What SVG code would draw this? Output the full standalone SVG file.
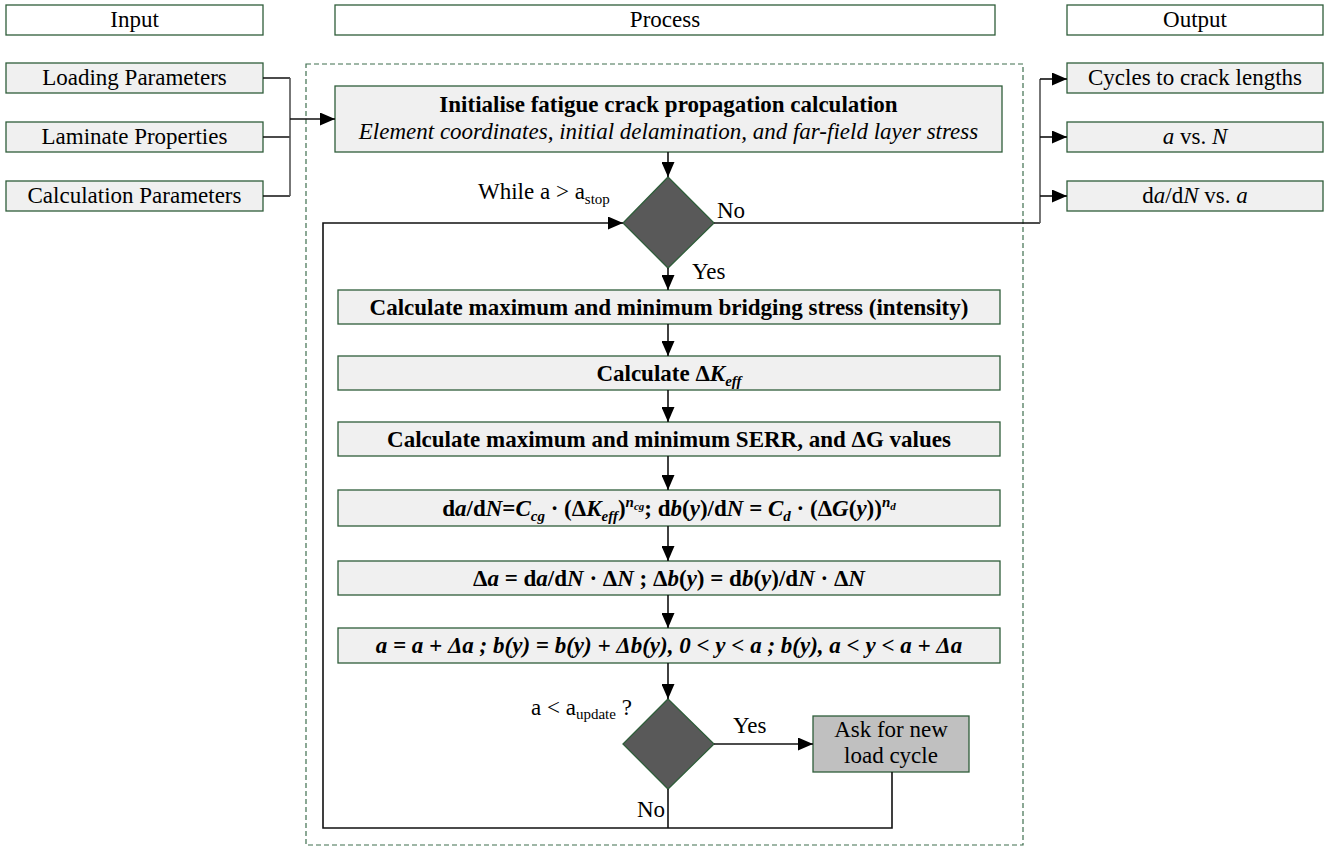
<svg xmlns="http://www.w3.org/2000/svg" width="1328" height="847" viewBox="0 0 1328 847" font-family="'Liberation Serif', 'DejaVu Serif', serif">
<style>
text{font-family:'Liberation Serif','DejaVu Serif',serif;font-size:23px;fill:#000}
.c{text-anchor:middle}
.b{font-weight:bold}
.i{font-style:italic}
.hdr{fill:#fff;stroke:#2f5d3a;stroke-width:1.3}
.box{fill:#f0f0f0;stroke:#2f5d3a;stroke-width:1.3}
.ask{fill:#c0c0c0;stroke:#2f5d3a;stroke-width:1.3}
.dia{fill:#595959;stroke:#2f5d3a;stroke-width:1.3}
.ln{fill:none;stroke:#111;stroke-width:1.6}
.lg{fill:none;stroke:#555;stroke-width:1.6}
.dash{fill:none;stroke:#3f6f4f;stroke-width:1.2;stroke-dasharray:5,3}
</style>
<defs>
<marker id="ah" markerUnits="userSpaceOnUse" markerWidth="16" markerHeight="13" refX="15" refY="6.5" orient="auto">
<path d="M0,0 L15,6.5 L0,13 Z" fill="#000"/>
</marker>
</defs>

<rect class="dash" x="306" y="64" width="717" height="781"/>

<g id="header-input"><rect class="hdr" x="6" y="5" width="257" height="30"/><text class="c" x="134.5" y="27">Input</text></g>
<g id="header-process"><rect class="hdr" x="335" y="5" width="660" height="30"/><text class="c" x="665" y="27">Process</text></g>
<g id="header-output"><rect class="hdr" x="1067" y="5" width="256" height="30"/><text class="c" x="1195" y="27">Output</text></g>

<g id="in-loading"><rect class="box" x="6" y="63" width="257" height="30"/><text class="c" x="134.5" y="85">Loading Parameters</text></g>
<g id="in-laminate"><rect class="box" x="6" y="122" width="257" height="30"/><text class="c" x="134.5" y="144">Laminate Properties</text></g>
<g id="in-calc"><rect class="box" x="6" y="181" width="257" height="30"/><text class="c" x="134.5" y="203">Calculation Parameters</text></g>

<g id="out-cycles"><rect class="box" x="1067" y="63" width="256" height="30"/><text class="c" x="1195" y="85">Cycles to crack lengths</text></g>
<g id="out-aN"><rect class="box" x="1067" y="122" width="256" height="30"/><text class="c" x="1195" y="144"><tspan class="i">a</tspan> vs. <tspan class="i">N</tspan></text></g>
<g id="out-dadN"><rect class="box" x="1067" y="181" width="256" height="30"/><text class="c" x="1195" y="203">d<tspan class="i">a</tspan>/d<tspan class="i">N</tspan> vs. <tspan class="i">a</tspan></text></g>

<g id="init"><rect class="box" x="335" y="86" width="667" height="66"/>
<text class="c b" x="668.5" y="112">Initialise fatigue crack propagation calculation</text>
<text class="c i" x="668.5" y="139">Element coordinates, initial delamination, and far-field layer stress</text></g>

<g id="while"><path class="dia" d="M668,177 L714,223 L668,268 L623,223 Z"/>
<text x="478" y="199">While a &gt; a<tspan font-size="15" dy="5">stop</tspan></text>
<text x="717" y="218">No</text>
<text x="692" y="279">Yes</text></g>

<g id="bridging"><rect class="box" x="338" y="290" width="662" height="34"/><text class="c b" x="669" y="315">Calculate maximum and minimum bridging stress (intensity)</text></g>
<g id="dKeff"><rect class="box" x="338" y="356" width="662" height="34"/><text class="c b" x="669" y="381">Calculate Δ<tspan class="i">K</tspan><tspan class="i" font-size="15" dy="5">eff</tspan></text></g>
<g id="serr"><rect class="box" x="338" y="422" width="662" height="34"/><text class="c b" x="669" y="447">Calculate maximum and minimum SERR, and ΔG values</text></g>
<g id="rates"><rect class="box" x="338" y="490" width="662" height="36"/><text class="c b" x="669" y="516">d<tspan class="i">a</tspan>/d<tspan class="i">N</tspan>=<tspan class="i">C</tspan><tspan class="i" font-size="15" dy="5">cg</tspan><tspan dy="-5"> · (Δ</tspan><tspan class="i">K</tspan><tspan class="i" font-size="15" dy="5">eff</tspan><tspan dy="-5">)</tspan><tspan class="i" font-size="15" dy="-9">n</tspan><tspan class="i" font-size="11" dy="3">cg</tspan><tspan dy="6">; d</tspan><tspan class="i">b</tspan>(<tspan class="i">y</tspan>)/d<tspan class="i">N</tspan> = <tspan class="i">C</tspan><tspan class="i" font-size="15" dy="5">d</tspan><tspan dy="-5"> · (Δ</tspan><tspan class="i">G</tspan>(<tspan class="i">y</tspan>))<tspan class="i" font-size="15" dy="-9">n</tspan><tspan class="i" font-size="11" dy="3">d</tspan></text></g>
<g id="increments"><rect class="box" x="338" y="561" width="662" height="34"/><text class="c b" x="669" y="586">Δ<tspan class="i">a</tspan> = d<tspan class="i">a</tspan>/d<tspan class="i">N</tspan> · Δ<tspan class="i">N</tspan> ; Δ<tspan class="i">b</tspan>(<tspan class="i">y</tspan>) = d<tspan class="i">b</tspan>(<tspan class="i">y</tspan>)/d<tspan class="i">N</tspan> · Δ<tspan class="i">N</tspan></text></g>
<g id="update"><rect class="box" x="338" y="628" width="662" height="35"/><text class="c b i" x="669" y="653">a = a + Δa ; b(y) = b(y) + Δb(y), 0 &lt; y &lt; a ; b(y), a &lt; y &lt; a + Δa</text></g>

<g id="check"><path class="dia" d="M668,699 L714,744 L668,789 L623,744 Z"/>
<text x="531" y="715">a &lt; a<tspan font-size="15" dy="4">update</tspan><tspan dy="-4"> ?</tspan></text>
<text x="733" y="733">Yes</text>
<text x="637" y="817">No</text></g>

<g id="ask"><rect class="ask" x="813" y="716" width="156" height="56"/>
<text class="c" x="891" y="737">Ask for new</text>
<text class="c" x="891" y="763">load cycle</text></g>

<g id="connectors">
<path class="ln" d="M263,78 H290 M263,137 H290 M263,196 H290"/>
<path class="lg" d="M290,78 V196"/>
<path class="ln" d="M290,119 H335" marker-end="url(#ah)"/>
<path class="ln" d="M668,152 V177" marker-end="url(#ah)"/>
<path class="ln" d="M714,223 H1040"/>
<path class="lg" d="M1040,223 V79"/>
<path class="ln" d="M1040,79 H1067" marker-end="url(#ah)"/>
<path class="ln" d="M1040,137 H1067" marker-end="url(#ah)"/>
<path class="ln" d="M1040,196 H1067" marker-end="url(#ah)"/>
<path class="ln" d="M668,268 V290" marker-end="url(#ah)"/>
<path class="ln" d="M668,324 V356" marker-end="url(#ah)"/>
<path class="ln" d="M668,390 V422" marker-end="url(#ah)"/>
<path class="ln" d="M668,456 V490" marker-end="url(#ah)"/>
<path class="ln" d="M668,526 V561" marker-end="url(#ah)"/>
<path class="ln" d="M668,595 V628" marker-end="url(#ah)"/>
<path class="ln" d="M668,663 V699" marker-end="url(#ah)"/>
<path class="ln" d="M714,744 H813" marker-end="url(#ah)"/>
<path class="ln" d="M668,789 V828"/>
<path class="ln" d="M892,772 V828 H323 V223 H623" marker-end="url(#ah)"/>
</g>
</svg>
